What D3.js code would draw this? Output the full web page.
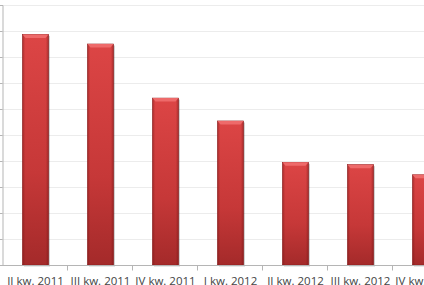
<!DOCTYPE html>
<html>
<head>
<meta charset="utf-8">
<script src="https://cdn.jsdelivr.net/npm/d3@7"></script>
<style>
  html, body { margin: 0; padding: 0; background: #fff; overflow: hidden; }
  #wykres { width: 424px; height: 285px; }
</style>
</head>
<body>
<div id="wykres"></div>
<script>
// Dane wykresu
const kwartaly = ['II kw. 2011', 'III kw. 2011', 'IV kw. 2011', 'I kw. 2012', 'II kw. 2012', 'III kw. 2012', 'IV kw. 2012'];
const wartosci = [8.87, 8.5, 6.42, 5.54, 3.95, 3.86, 3.47];
const podzialkaY = [0, 1, 2, 3, 4, 5, 6, 7, 8, 9, 10];

const szer = 424, wys = 285;
const margin = { top: 5, left: 3, bottom: 20 };
const szerKat = 65;

const svg = d3.select('#wykres').append('svg')
    .attr('width', szer)
    .attr('height', wys);

const defs = svg.append('defs');

// gradient pionowy słupka
const gr = defs.append('linearGradient').attr('id', 'gSlupek')
    .attr('x1', 0).attr('y1', 0).attr('x2', 0).attr('y2', 1);
gr.append('stop').attr('offset', '0%').attr('stop-color', '#dc4545');
gr.append('stop').attr('offset', '60%').attr('stop-color', '#c63838');
gr.append('stop').attr('offset', '100%').attr('stop-color', '#a42a2a');

// cieniowanie krawędzi bocznych
const grB = defs.append('linearGradient').attr('id', 'gBok')
    .attr('x1', 0).attr('y1', 0).attr('x2', 1).attr('y2', 0);
grB.append('stop').attr('offset', '0%').attr('stop-color', '#6e1010').attr('stop-opacity', 0.45);
grB.append('stop').attr('offset', '10%').attr('stop-color', '#6e1010').attr('stop-opacity', 0);
grB.append('stop').attr('offset', '90%').attr('stop-color', '#6e1010').attr('stop-opacity', 0);
grB.append('stop').attr('offset', '100%').attr('stop-color', '#6e1010').attr('stop-opacity', 0.45);

const x = d3.scaleBand()
    .domain(kwartaly)
    .range([margin.left, margin.left + szerKat * kwartaly.length])
    .paddingInner(0.6)
    .paddingOuter(0.3);

const y = d3.scaleLinear()
    .domain([0, 10])
    .range([wys - margin.bottom, margin.top]);

// Linie siatki
svg.append('g')
    .selectAll('line')
    .data(podzialkaY.slice(1))
    .enter()
    .append('line')
    .attr('x1', 0)
    .attr('x2', szer)
    .attr('y1', d => Math.round(y(d)) + 0.5)
    .attr('y2', d => Math.round(y(d)) + 0.5)
    .attr('stroke', '#ececec')
    .attr('stroke-width', 1);

// Oś Y
const osY = svg.append('g')
    .attr('transform', `translate(${margin.left - 0.5}, 0)`)
    .call(d3.axisLeft(y).tickValues(podzialkaY).tickSize(4).tickFormat(''));
osY.selectAll('line, path').attr('stroke', '#b5b5b5');

// Cienie słupków
svg.append('g')
    .selectAll('rect')
    .data(wartosci)
    .enter()
    .append('rect')
    .attr('x', (d, i) => x(kwartaly[i]) + 1.5)
    .attr('y', d => y(d) + 1.5)
    .attr('width', x.bandwidth())
    .attr('height', d => y(0) - y(d))
    .attr('fill', '#000')
    .attr('opacity', 0.18);

// Słupki
const slupki = svg.append('g');
slupki.selectAll('rect.slupek')
    .data(wartosci)
    .enter()
    .append('rect')
    .attr('class', 'slupek')
    .attr('x', (d, i) => x(kwartaly[i]))
    .attr('y', d => y(d))
    .attr('width', x.bandwidth())
    .attr('height', d => y(0) - y(d))
    .attr('fill', 'url(#gSlupek)')
    .attr('stroke', '#8e2020')
    .attr('stroke-width', 0.6);

slupki.selectAll('rect.bok')
    .data(wartosci)
    .enter()
    .append('rect')
    .attr('class', 'bok')
    .attr('x', (d, i) => x(kwartaly[i]))
    .attr('y', d => y(d))
    .attr('width', x.bandwidth())
    .attr('height', d => y(0) - y(d))
    .attr('fill', 'url(#gBok)');

// jasna fazka na górze
slupki.selectAll('path.fazka')
    .data(wartosci)
    .enter()
    .append('path')
    .attr('class', 'fazka')
    .attr('d', (d, i) => {
        const x0 = x(kwartaly[i]), w = x.bandwidth(), t = y(d);
        return `M${x0},${t} L${x0 + w},${t} L${x0 + w - 3},${t + 3.5} L${x0 + 3},${t + 3.5} Z`;
    })
    .attr('fill', '#ee6a6a');

// Oś X
const osX = svg.append('g')
    .attr('transform', `translate(0, ${Math.round(y(0)) + 0.5})`);
osX.append('line')
    .attr('x1', margin.left - 1)
    .attr('x2', szer)
    .attr('stroke', '#b5b5b5');
osX.selectAll('line.tick')
    .data(kwartaly)
    .enter()
    .append('line')
    .attr('class', 'tick')
    .attr('x1', (d, i) => margin.left + szerKat * (i + 1) - 0.5)
    .attr('x2', (d, i) => margin.left + szerKat * (i + 1) - 0.5)
    .attr('y1', 0)
    .attr('y2', 5)
    .attr('stroke', '#b5b5b5');

osX.selectAll('text')
    .data(kwartaly)
    .enter()
    .append('text')
    .attr('x', d => x(d) + x.bandwidth() / 2)
    .attr('y', 19)
    .attr('text-anchor', 'middle')
    .style('font-family', 'Open Sans, sans-serif')
    .style('font-size', '11.5px')
    .style('fill', '#444')
    .text(d => d);
</script>
</body>
</html>
